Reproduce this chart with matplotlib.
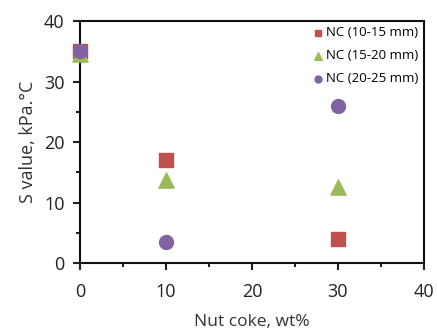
import matplotlib
matplotlib.use("Agg")
import matplotlib.pyplot as plt
from matplotlib.ticker import MultipleLocator

plt.rcParams['font.family'] = ['Open Sans', 'DejaVu Sans']

x_vals = [0, 10, 30]
nc_10_15 = [35, 17, 4]
nc_15_20 = [34.5, 13.7, 12.5]
nc_20_25 = [35, 3.5, 26]
labels = ['NC (10-15 mm)', 'NC (15-20 mm)', 'NC (20-25 mm)']
colors = ['#C0504D', '#9BBB59', '#8064A2']

fig = plt.figure(figsize=(4.37, 3.33), dpi=100)
ax = fig.add_axes([0.183, 0.21, 0.787, 0.727])

ax.scatter(x_vals, nc_10_15, marker='s', s=100, color=colors[0], label=labels[0], zorder=3, clip_on=False)
ax.scatter(x_vals, nc_15_20, marker='^', s=120, color=colors[1], label=labels[1], zorder=3, clip_on=False)
ax.scatter(x_vals, nc_20_25, marker='o', s=100, color=colors[2], label=labels[2], zorder=4, clip_on=False)

ax.set_xlim(0, 40)
ax.set_ylim(0, 40)
ax.xaxis.set_major_locator(MultipleLocator(10))
ax.xaxis.set_minor_locator(MultipleLocator(5))
ax.yaxis.set_major_locator(MultipleLocator(10))
ax.yaxis.set_minor_locator(MultipleLocator(5))
ax.tick_params(axis='both', which='major', direction='out', length=5, width=1.5, labelsize=13, pad=6, color='#222222', labelcolor='#222222')
ax.tick_params(axis='both', which='minor', direction='out', length=3, width=1.5, color='#222222')
ax.tick_params(axis='x', which='major', pad=9)
for sp in ax.spines.values():
    sp.set_linewidth(1.5)
    sp.set_color('#111111')

ax.set_xlabel('Nut coke, wt%', fontsize=12.5, labelpad=10, color='#333333')
ax.set_ylabel('S value, kPa.\u00b0C', fontsize=13, labelpad=5, color='#333333')

leg = ax.legend(loc='upper right', fontsize=9.5, frameon=False, handletextpad=0.0,
                markerscale=0.5, borderaxespad=0.1, labelspacing=0.75, handlelength=1.2,
                borderpad=0.3)

fig.savefig('out.png', dpi=100)
